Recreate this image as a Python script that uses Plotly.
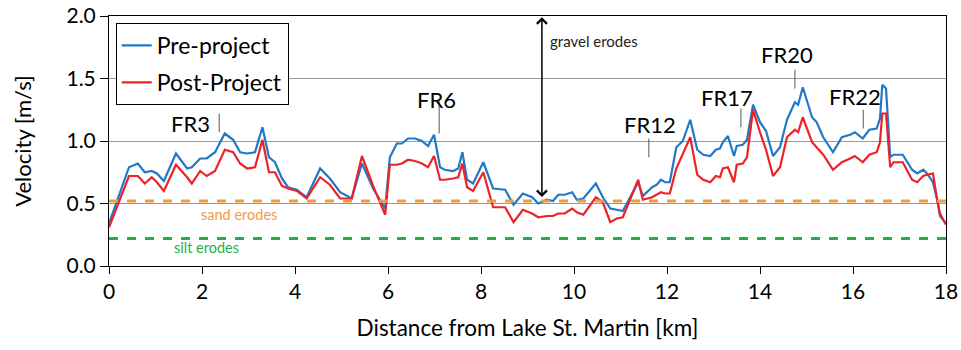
import plotly.graph_objects as go

# Distance along the channel [km]
distance_km = [
    0.00, 0.43, 0.62, 0.77, 0.92, 1.03, 1.18, 1.44, 1.68, 1.78, 1.96, 2.10, 2.28, 2.49,
    2.67, 2.82, 2.97, 3.14, 3.30, 3.44, 3.57, 3.72, 3.85, 4.04, 4.25, 4.54, 4.75, 4.97,
    5.22, 5.44, 5.68, 5.94, 6.04, 6.19, 6.30, 6.43, 6.58, 6.73, 6.86, 6.99, 7.12, 7.22,
    7.40, 7.51, 7.60, 7.70, 7.83, 8.05, 8.26, 8.52, 8.70, 8.90, 9.10, 9.23, 9.42, 9.55,
    9.66, 9.80, 9.96, 10.06, 10.20, 10.47, 10.62, 10.78, 10.92, 11.05, 11.38, 11.48,
    11.68, 11.78, 11.87, 11.96, 12.06, 12.20, 12.34, 12.50, 12.65, 12.78, 12.93, 13.05,
    13.14, 13.20, 13.31, 13.44, 13.50, 13.63, 13.72, 13.85, 14.00, 14.13, 14.28, 14.43,
    14.58, 14.75, 14.82, 14.92, 15.12, 15.22, 15.36, 15.57, 15.76, 15.94, 16.04, 16.21,
    16.35, 16.51, 16.58, 16.63, 16.71, 16.80, 16.87, 17.07, 17.27, 17.38, 17.51, 17.59,
    17.72, 17.81, 17.87, 18.00,
]

# Velocity before the project [m/s]
pre_project = [
    0.34, 0.79, 0.82, 0.75, 0.76, 0.74, 0.68, 0.90, 0.78, 0.79, 0.86, 0.86, 0.91, 1.06,
    1.01, 0.91, 0.90, 0.91, 1.11, 0.87, 0.83, 0.70, 0.63, 0.61, 0.55, 0.78, 0.70, 0.59,
    0.54, 0.82, 0.62, 0.46, 0.87, 0.98, 0.98, 1.02, 1.02, 1.00, 0.96, 1.05, 0.79, 0.77,
    0.76, 0.78, 0.91, 0.69, 0.66, 0.83, 0.62, 0.61, 0.49, 0.58, 0.55, 0.50, 0.53, 0.52,
    0.57, 0.57, 0.59, 0.53, 0.54, 0.66, 0.55, 0.46, 0.45, 0.44, 0.67, 0.56,
    0.63, 0.65, 0.69, 0.67, 0.67, 0.95, 1.00, 1.17, 0.93, 0.89, 0.88, 0.93,
    0.94, 0.99, 1.04, 0.88, 0.96, 0.97, 1.01, 1.29, 1.15, 1.08, 0.88, 0.95,
    1.17, 1.31, 1.29, 1.43, 1.19, 1.15, 1.03, 0.91, 1.03, 1.05, 1.07, 1.02,
    1.09, 1.10, 1.18, 1.45, 1.42, 0.87, 0.89, 0.89, 0.77, 0.74, 0.77, 0.74,
    0.67, 0.53, 0.40, 0.34,
]

# Velocity after the project [m/s]
post_project = [
    0.31, 0.72, 0.72, 0.66, 0.71, 0.67, 0.60, 0.81, 0.71, 0.66, 0.76, 0.72, 0.76, 0.93,
    0.91, 0.82, 0.78, 0.79, 1.01, 0.75, 0.75, 0.64, 0.62, 0.60, 0.54, 0.71, 0.65, 0.54,
    0.54, 0.88, 0.64, 0.41, 0.81, 0.81, 0.82, 0.85, 0.84, 0.82, 0.79, 0.88, 0.69, 0.69,
    0.70, 0.71, 0.82, 0.63, 0.60, 0.75, 0.47, 0.47, 0.35, 0.45, 0.42, 0.39, 0.40, 0.40,
    0.42, 0.42, 0.46, 0.43, 0.41, 0.55, 0.51, 0.35, 0.38, 0.39, 0.69, 0.53,
    0.55, 0.57, 0.59, 0.58, 0.58, 0.78, 0.90, 1.03, 0.73, 0.69, 0.67, 0.72,
    0.71, 0.78, 0.79, 0.67, 0.81, 0.82, 0.87, 1.25, 1.07, 0.93, 0.72, 0.79,
    1.03, 1.09, 1.07, 1.19, 0.99, 0.95, 0.89, 0.77, 0.83, 0.86, 0.88, 0.83,
    0.89, 0.91, 0.99, 1.22, 1.22, 0.79, 0.83, 0.83, 0.69, 0.67, 0.72, 0.73,
    0.74, 0.53, 0.42, 0.33,
]

# Erosion thresholds [m/s]
sand_threshold = 0.52
silt_threshold = 0.22

# Site labels: name, station [km], label centre x, label y, leader line y-range
site_names = ["FR3", "FR6", "FR12", "FR17", "FR20", "FR22"]
site_km = [2.37, 7.10, 11.61, 13.59, 14.75, 16.22]
site_label_x = [1.75, 7.05, 11.64, 13.30, 14.58, 16.05]
site_label_y = [1.14, 1.33, 1.13, 1.35, 1.69, 1.36]
site_line_lo = [1.07, 1.06, 0.87, 1.11, 1.42, 1.10]
site_line_hi = [1.22, 1.33, 1.02, 1.26, 1.57, 1.25]

FONT = "Lato"
BLUE = "#1f78c8"
RED = "#ec2227"
ORANGE = "#f59a3c"
GREEN = "#1fb04a"

fig = go.Figure()
fig.add_trace(go.Scatter(x=distance_km, y=pre_project, mode="lines", name="Pre-project",
                         legendgroup="pre", line=dict(color=BLUE, width=2.2)))
fig.add_trace(go.Scatter(x=distance_km, y=post_project, mode="lines", name="Post-Project",
                         legendgroup="post", line=dict(color=RED, width=2.2)))

# Threshold lines
for level, col in [(sand_threshold, ORANGE), (silt_threshold, GREEN)]:
    fig.add_shape(type="line", xref="x", yref="y", x0=0, x1=18, y0=level, y1=level,
                  line=dict(color=col, width=3, dash="dash"), layer="above")

fig.add_annotation(x=2.8, y=0.41, text="sand erodes", showarrow=False,
                   font=dict(family=FONT, size=14.5, color=ORANGE))
fig.add_annotation(x=2.09, y=0.145, text="silt erodes", showarrow=False,
                   font=dict(family=FONT, size=14.5, color=GREEN))

# Gravel double arrow
fig.add_annotation(x=9.31, y=1.99, ax=9.31, ay=0.54, xref="x", yref="y", axref="x", ayref="y",
                   showarrow=True, arrowside="end+start", arrowhead=4, arrowsize=1.3,
                   arrowwidth=1.5, arrowcolor="black", text="")
fig.add_annotation(x=9.44, y=1.80, text="gravel erodes", showarrow=False, xanchor="left",
                   font=dict(family=FONT, size=15, color="#222222"))

# Site labels with leader lines
for name, km, lx, ly, lo, hi in zip(site_names, site_km, site_label_x, site_label_y,
                                     site_line_lo, site_line_hi):
    fig.add_shape(type="line", xref="x", yref="y", x0=km, x1=km, y0=lo, y1=hi,
                  line=dict(color="#555555", width=1))
    fig.add_annotation(x=lx, y=ly, text=name, showarrow=False,
                       font=dict(family=FONT, size=22, color="black"))

fig.update_layout(
    width=961, height=350,
    margin=dict(l=109, r=15, t=16, b=84),
    paper_bgcolor="white", plot_bgcolor="white",
    font=dict(family=FONT, size=20, color="black"),
    showlegend=True,
    legend=dict(x=0.008, y=0.972, xanchor="left", yanchor="top",
                bordercolor="black", borderwidth=1, bgcolor="white",
                font=dict(family=FONT, size=23), tracegroupgap=4, itemwidth=30),
    xaxis=dict(range=[0, 18], dtick=2, tick0=0, showgrid=False, showline=True,
               linecolor="black", linewidth=1, mirror=True, ticks="outside",
               ticklen=7, tickcolor="black", zeroline=False, automargin=False,
               title=dict(text="Distance from Lake St. Martin [km]", standoff=18,
                          font=dict(family=FONT, size=22.5)),
               tickfont=dict(family=FONT, size=21)),
    yaxis=dict(range=[0, 2.0], dtick=0.5, tickformat=".1f", showgrid=True,
               gridcolor="#9a9a9a", gridwidth=1, showline=True, linecolor="black",
               linewidth=1, mirror=True, ticks="outside", ticklen=8, tickcolor="black",
               zeroline=False, automargin=False,
               title=dict(text="Velocity [m/s]", standoff=28,
                          font=dict(family=FONT, size=22)),
               tickfont=dict(family=FONT, size=21)),
)

fig.write_html("out.html")
